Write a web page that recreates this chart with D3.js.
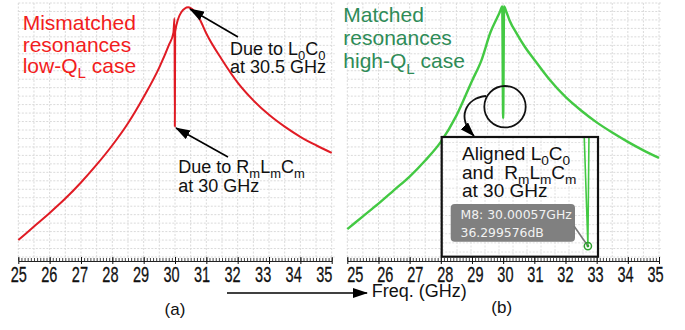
<!DOCTYPE html>
<html>
<head>
<meta charset="utf-8">
<script src="https://cdn.jsdelivr.net/npm/d3@7"></script>
<style>
  body { margin: 0; background: #fff; }
  svg { display: block; font-family: "Liberation Sans", Arial, sans-serif; }
</style>
</head>
<body>
<svg id="chart" width="685" height="330"></svg>
<script>
'use strict';

// frequency axis, GHz
var freqTicks = [25, 26, 27, 28, 29, 30, 31, 32, 33, 34, 35];

// (a) mismatched resonances, low-QL
var freqA = [25.0, 25.5, 26.0, 26.5, 27.0, 27.5, 28.0, 28.5, 29.0, 29.5, 29.8, 29.95,
  29.985, 29.995, 30.005, 30.2, 30.42, 30.6, 30.8, 31.0, 31.5, 32.0, 32.5, 33.0,
  33.5, 34.0, 34.5, 35.0];
var levelA = [2.0, 3.6, 5.2, 6.9, 8.8, 10.9, 13.2, 15.8, 18.9, 22.4, 25.0, 26.5,
  28.2, 15.4, 26.6, 28.9, 29.5, 29.1, 28.0, 26.4, 23.3, 20.6, 18.5, 16.8,
  15.4, 14.2, 13.2, 12.3];

// (b) matched resonances, high-QL
var freqB = [25.0, 25.5, 26.0, 26.5, 27.0, 27.5, 28.0, 28.5, 29.0, 29.3, 29.6, 29.8,
  29.9, 29.97, 30.0, 30.03, 30.1, 30.2, 30.45, 30.7, 31.0, 31.5, 32.0, 32.5,
  33.0, 33.5, 34.0, 34.5, 35.0];
var levelB = [3.3, 4.8, 6.3, 7.9, 9.5, 11.4, 13.6, 16.7, 20.8, 23.2, 26.6, 28.2,
  29.0, 29.6, 16.4, 29.6, 29.0, 28.0, 26.3, 24.8, 23.3, 20.9, 18.9, 17.3,
  15.9, 14.7, 13.6, 12.6, 11.7];

// zoomed view of the notch in (b), dB
var freqInset = [30.000514, 30.00057, 30.000586];
var levelInset = [62, 36.299576, 62];
var markerLines = ['M8: 30.00057GHz', '36.299576dB'];

var svg = d3.select('#chart');
var redCurve = '#e01b24', redText = '#f21d1d';
var greenCurve = '#43c943', greenText = '#2e8b57';

var y = d3.scaleLinear().domain([0, 30]).range([257, 3]);

var defs = svg.append('defs');
defs.append('marker')
  .attr('id', 'head')
  .attr('markerUnits', 'userSpaceOnUse')
  .attr('markerWidth', 15).attr('markerHeight', 10)
  .attr('refX', 14).attr('refY', 5)
  .attr('orient', 'auto')
  .append('path')
  .attr('d', 'M0,0 L15,5 L0,10 Z')
  .attr('fill', '#000');

// text with subscripts, parts = [[text, isSub], ...]
var richText = function (g, x, yy, size, color, parts, anchor) {
  var t = g.append('text')
    .attr('x', x).attr('y', yy)
    .attr('font-size', size)
    .attr('fill', color)
    .attr('text-anchor', anchor || 'start');
  var shifted = false;
  parts.forEach(function (p) {
    var s = t.append('tspan').text(p[0]);
    if (p[1] && !shifted) {
      s.attr('dy', size * 0.25).attr('font-size', size * 0.72);
      shifted = true;
    } else if (p[1]) {
      s.attr('font-size', size * 0.72);
    } else if (shifted) {
      s.attr('dy', -size * 0.25);
      shifted = false;
    }
  });
  return t;
};

// labelShift: the tick numbers in the source sit a bit off their ticks
var drawPanel = function (x0, x1, freq, level, color, width, labelShift) {
  var x = d3.scaleLinear().domain([25, 35]).range([x0, x1]);
  var g = svg.append('g');

  // dashed grid
  var grid = g.append('g').attr('stroke', '#dadada').attr('stroke-width', 1)
    .attr('stroke-dasharray', '2,1.5');
  grid.selectAll('line.v')
    .data(d3.range(25, 35.01, 0.5))
    .enter().append('line')
    .attr('x1', function (d) { return x(d); })
    .attr('x2', function (d) { return x(d); })
    .attr('y1', y(30)).attr('y2', y(0));
  grid.selectAll('line.h')
    .data(d3.range(0, 30.01, 1))
    .enter().append('line')
    .attr('x1', x(25)).attr('x2', x(35) + 3)
    .attr('y1', function (d) { return y(d); })
    .attr('y2', function (d) { return y(d); });

  // minor ticks point up, major ticks cross the axis line
  var minor = g.append('g').attr('transform', 'translate(0,261)')
    .call(d3.axisBottom(x).ticks(100).tickSize(-3).tickFormat(''));
  minor.select('.domain').remove();
  minor.selectAll('line').attr('stroke', '#444');

  var sx = 0.66;
  var major = g.append('g').attr('transform', 'translate(0,261)')
    .call(d3.axisBottom(x).tickValues(freqTicks).tickSize(3).tickSizeOuter(0));
  major.select('.domain').attr('stroke', '#222');
  major.selectAll('.tick line').attr('y1', -4).attr('y2', 3).attr('stroke', '#111');
  major.selectAll('.tick text')
    .attr('x', function (d) { return labelShift(d) / sx; })
    .attr('y', 21).attr('dy', 0)
    .attr('font-size', 22)
    .attr('font-family', '"Liberation Sans", Arial, sans-serif')
    .attr('fill', '#111')
    .attr('stroke', '#111').attr('stroke-width', 0.3)
    .attr('transform', 'scale(' + sx + ',1)');

  var line = d3.line()
    .x(function (d, i) { return x(freq[i]); })
    .y(function (d) { return y(d); })
    .curve(d3.curveMonotoneX);
  g.append('path')
    .datum(level)
    .attr('d', line)
    .attr('fill', 'none')
    .attr('stroke', color)
    .attr('stroke-width', width)
    .attr('stroke-linejoin', 'round');
  return x;
};

drawPanel(18.3, 331.7, freqA, levelA, redCurve, 2,
  function (d) { return -0.8 * (d - 25); });
drawPanel(347.3, 659, freqB, levelB, greenCurve, 2.4,
  function (d) { return 7.5 - 1.15 * (d - 25); });

// panel (a) labels
richText(svg, 22.7, 30, 21, redText, [['Mismatched']]);
richText(svg, 22.7, 51.7, 21, redText, [['resonances']]);
richText(svg, 22.7, 73, 21, redText, [['low-Q'], ['L', true], [' case']]);

richText(svg, 230, 55, 18, '#111', [['Due to L'], ['0', true], ['C'], ['0', true]]);
richText(svg, 230, 73.3, 18, '#111', [['at 30.5 GHz']]);
richText(svg, 178.3, 173.3, 18, '#111', [['Due to R'], ['m', true], ['L'], ['m', true], ['C'], ['m', true]]);
richText(svg, 178.3, 191.7, 18, '#111', [['at 30 GHz']]);

var arrow = function (x1, y1, x2, y2) {
  svg.append('line')
    .attr('x1', x1).attr('y1', y1).attr('x2', x2).attr('y2', y2)
    .attr('stroke', '#000').attr('stroke-width', 1.6)
    .attr('marker-end', 'url(#head)');
};
arrow(238, 37, 190, 9);
arrow(228, 157, 176, 128);
arrow(227, 293, 367, 293);

// panel (b) labels
richText(svg, 343.3, 21.7, 21, greenText, [['Matched']]);
richText(svg, 343.3, 45, 21, greenText, [['resonances']]);
richText(svg, 343.3, 68.3, 21, greenText, [['high-Q'], ['L', true], [' case']]);

svg.append('circle')
  .attr('cx', 505).attr('cy', 106.7).attr('r', 20.7)
  .attr('fill', 'none').attr('stroke', '#111').attr('stroke-width', 1.8);
svg.append('path')
  .attr('d', 'M486,96 C466,98 456,117 474,136')
  .attr('fill', 'none').attr('stroke', '#111').attr('stroke-width', 1.8)
  .attr('marker-end', 'url(#head)');

// inset: zoom on the notch
var box = {x: 441.7, y: 137, w: 156.3, h: 119.7};
var ix = d3.scaleLinear().domain([29.9985, 30.0007]).range([443, 597]);
var iy = d3.scaleLinear().domain([35, 60]).range([252, 138]);
var inset = svg.append('g');
inset.append('rect')
  .attr('x', box.x).attr('y', box.y).attr('width', box.w).attr('height', box.h)
  .attr('fill', '#fff');
defs.append('clipPath').attr('id', 'insetClip')
  .append('rect')
  .attr('x', box.x).attr('y', box.y).attr('width', box.w).attr('height', box.h);
var ig = inset.append('g').attr('clip-path', 'url(#insetClip)');
var igrid = ig.append('g').attr('stroke', '#e0e0e0').attr('stroke-dasharray', '2,1.5');
igrid.selectAll('line.v')
  .data(d3.range(29.9985, 30.0007, 0.0002))
  .enter().append('line')
  .attr('x1', function (d) { return ix(d); }).attr('x2', function (d) { return ix(d); })
  .attr('y1', box.y).attr('y2', box.y + box.h);
igrid.selectAll('line.h')
  .data(d3.range(35, 61, 2))
  .enter().append('line')
  .attr('x1', box.x).attr('x2', box.x + box.w)
  .attr('y1', function (d) { return iy(d); }).attr('y2', function (d) { return iy(d); });
ig.append('path')
  .datum(levelInset)
  .attr('d', d3.line()
    .x(function (d, i) { return ix(freqInset[i]); })
    .y(function (d) { return iy(d); }))
  .attr('fill', 'none').attr('stroke', greenCurve).attr('stroke-width', 1.6);

var mx = ix(freqInset[1]), my = iy(levelInset[1]);
inset.append('rect')
  .attr('x', 450.7).attr('y', 204).attr('width', 124.3).attr('height', 37.7)
  .attr('rx', 4).attr('fill', '#808080');
inset.append('line')
  .attr('x1', 574).attr('y1', 226).attr('x2', mx).attr('y2', my)
  .attr('stroke', '#777').attr('stroke-width', 1.6);
markerLines.forEach(function (s, i) {
  inset.append('text')
    .attr('x', 460.5).attr('y', 218.5 + i * 18.4)
    .attr('font-family', '"DejaVu Sans", sans-serif')
    .attr('font-size', 12.4)
    .attr('fill', '#f2f2f2')
    .text(s);
});
inset.append('circle').attr('cx', mx).attr('cy', my).attr('r', 3.6)
  .attr('fill', 'none').attr('stroke', '#2f9f2f').attr('stroke-width', 1.5);
inset.append('circle').attr('cx', mx).attr('cy', my).attr('r', 1.4).attr('fill', '#2f9f2f');

richText(svg, 462, 160.3, 19, '#111', [['Aligned L'], ['0', true], ['C'], ['0', true]]);
richText(svg, 462, 179.3, 19, '#111', [['and\u00a0 R'], ['m', true], ['L'], ['m', true], ['C'], ['m', true]]);
richText(svg, 462, 196.7, 19, '#111', [['at 30 GHz']]);

inset.append('rect')
  .attr('x', box.x).attr('y', box.y).attr('width', box.w).attr('height', box.h)
  .attr('fill', 'none').attr('stroke', '#111').attr('stroke-width', 2.2);

// axis title and panel tags
richText(svg, 371.7, 296.7, 18, '#111', [['Freq. (GHz)']]);
richText(svg, 175, 315, 17, '#111', [['(a)']], 'middle');
richText(svg, 501.7, 313, 17, '#111', [['(b)']], 'middle');
</script>
</body>
</html>
